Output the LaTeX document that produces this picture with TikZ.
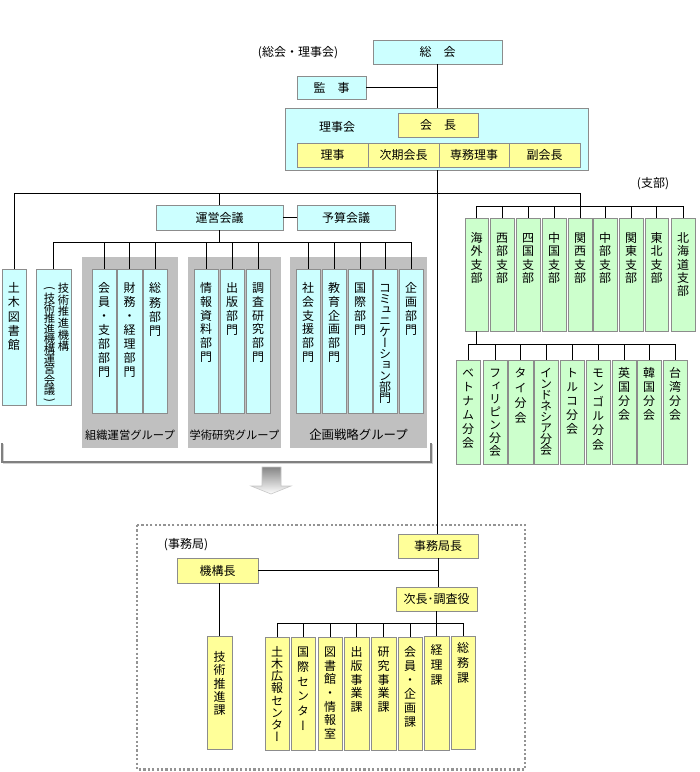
\documentclass[tikz,border=0pt]{standalone}
\usepackage{fontspec}
\usepackage{graphicx}
\setmainfont{Noto Sans CJK JP}
\newfontfamily\tatefont[RawFeature=+vert]{Noto Sans CJK JP}
\usetikzlibrary{calc}
\definecolor{cyanf}{HTML}{CCFFFF}
\definecolor{yellowf}{HTML}{FFFF99}
\definecolor{greenf}{HTML}{CCFFCC}
\definecolor{bordc}{HTML}{8C8C8C}
\definecolor{groupf}{HTML}{C0C0C0}
\makeatletter
\newcommand\tate[2][14]{\vtop{\tatefont\fontsize{12}{#1}\selectfont\baselineskip=#1pt\relax\lineskiplimit=-30pt\lineskip=0pt\@tfor\tate@c:=#2\do{\hbox to 12pt{\hss\tate@c\hss}}}}
\newcommand\tatesm[2][14]{\vtop{\tatefont\fontsize{11.3}{#1}\selectfont\baselineskip=#1pt\relax\lineskiplimit=-30pt\lineskip=0pt\@tfor\tate@c:=#2\do{\hbox to 11.3pt{\hss\tate@c\hss}}}}
\makeatother
\newcommand\bx[6]{\node[#1,anchor=north west,minimum width={(#5-#3)*1pt},minimum height={(#6-#4)*1pt}] (#2) at (#3,#4) {};}
\newcommand\hbx[7]{\node[#1,anchor=north west,minimum width={(#5-#3)*1pt},minimum height={(#6-#4)*1pt}] (#2) at (#3,#4) {#7};}
\newcommand\vbx[9][14]{\node[#2,anchor=north west,minimum width={(#6-#4)*1pt},minimum height={(#7-#5)*1pt}] (#3) at (#4,#5) {};
  \node[inner sep=0,anchor=base] (#3-t) at ($(#3.north)+(0,#8+4.6)$) {\tate[#1]{#9}};}
\tikzset{
  bxs/.style={draw=bordc,line width=0.9pt,inner sep=0pt,outer sep=0pt},
  cy/.style={bxs,fill=cyanf},
  ye/.style={bxs,fill=yellowf},
  gr/.style={bxs,fill=greenf},
  grp/.style={fill=groupf,draw=none,inner sep=0pt,outer sep=0pt},
  conn/.style={draw=black,line width=0.8pt},
}
\begin{document}
\begin{tikzpicture}[x=1pt,y=-1pt,font=\fontsize{12}{14}\selectfont]
\useasboundingbox (0,0) rectangle (700,772);
% ---------- group backgrounds
\bx{grp}{g1}{82}{257}{178}{448}
\bx{grp}{g2}{188}{257}{281}{448}
\bx{grp}{g3}{290}{257}{427}{448}
\node[font=\fontsize{11.3}{13}\selectfont] (g1l) at (130,435) {組織運営グループ};
\node[font=\fontsize{11.3}{13}\selectfont] (g2l) at (234.5,435) {学術研究グループ};
\node[font=\fontsize{12.4}{14}\selectfont] (g3l) at (358.5,435) {企画戦略グループ};
% ---------- top
\node (lblsr) at (298,53) {(総会・理事会)};
\hbx{cy}{soukai}{373}{40}{502}{64}{総　会}
\hbx{cy}{kanji}{297}{76}{366}{99}{監　事}
\bx{cy}{rijikai}{285}{108}{588}{170}
\node (rijikailbl) at (337,127) {理事会};
\hbx{ye}{kaicho}{398}{113}{478}{137}{会　長}
\hbx{ye}{riji}{297}{143}{368}{167}{理事}
\hbx{ye}{jiki}{368}{143}{439}{167}{次期会長}
\hbx{ye}{senmu}{439}{143}{509}{167}{専務理事}
\hbx{ye}{fuku}{509}{143}{580}{167}{副会長}
% ---------- council
\hbx{cy}{unei}{156}{205}{283}{230}{運営会議}
\hbx{cy}{yosan}{297}{205}{395}{230}{予算会議}
\vbx[14.2]{cy}{lib}{2}{269}{26}{405}{19}{土木図書館}
\bx{cy}{gisuiki}{36}{269}{71}{405}
\node[inner sep=0,anchor=base] (gisuiki-t1) at (63.5,292.4) {\tatesm[11.7]{技術推進機構}};
\node[inner sep=0,anchor=base] (gisuiki-t2) at (49.5,302.4) {\tatesm[10.2]{技術推進機構運営会議}};
\node[inner sep=0,font=\fontsize{11.3}{13}\selectfont] (gisuiki-po) at (49.5,288) {\rotatebox{-90}{(}};
\node[inner sep=0,font=\fontsize{11.3}{13}\selectfont] (gisuiki-pc) at (49.5,400) {\rotatebox{-90}{)}};
\vbx[13.9]{cy}{d1}{92}{269}{116}{413}{19}{会員・支部部門}
\vbx[13.9]{cy}{d2}{117}{269}{142}{413}{19}{財務・経理部門}
\vbx[14.4]{cy}{d3}{143}{269}{167}{413}{19}{総務部門}
\vbx[13.7]{cy}{d4}{194}{269}{218}{413}{19}{情報資料部門}
\vbx[14]{cy}{d5}{220}{269}{244}{413}{19}{出版部門}
\vbx[13.7]{cy}{d6}{246}{269}{270}{413}{19}{調査研究部門}
\vbx[13.7]{cy}{d7}{296}{269}{320}{413}{19}{社会支援部門}
\vbx[13.7]{cy}{d8}{322}{269}{346}{413}{19}{教育企画部門}
\vbx[14]{cy}{d9}{348}{269}{372}{413}{19}{国際部門}
\vbx[11]{cy}{d10}{373}{269}{397}{413}{19}{コミュニケーション部門}
\vbx[14]{cy}{d11}{399}{269}{423}{413}{19}{企画部門}
% ---------- branches
\node (lblshibu) at (653,184) {(支部)};
\vbx[13.3]{gr}{b1}{465}{218}{488}{331}{20}{海外支部}
\vbx[13.3]{gr}{b2}{490}{218}{514}{331}{20}{西部支部}
\vbx[13.3]{gr}{b3}{516}{218}{540}{331}{20}{四国支部}
\vbx[13.3]{gr}{b4}{542}{218}{566}{331}{20}{中国支部}
\vbx[13.3]{gr}{b5}{568}{218}{592}{331}{20}{関西支部}
\vbx[13.3]{gr}{b6}{593}{218}{617}{331}{20}{中部支部}
\vbx[13.3]{gr}{b7}{619}{218}{643}{331}{20}{関東支部}
\vbx[13.3]{gr}{b8}{645}{218}{668}{331}{20}{東北支部}
\vbx[13.3]{gr}{b9}{671}{218}{695}{331}{20}{北海道支部}
\vbx[14]{gr}{f1}{456}{360}{480}{464}{13}{ベトナム分会}
\vbx[13]{gr}{f2}{483}{360}{507}{464}{13}{フィリピン分会}
\vbx[15]{gr}{f3}{508}{360}{533}{464}{13}{タイ分会}
\vbx[11]{gr}{f4}{534}{360}{558}{464}{13}{インドネシア分会}
\vbx[14]{gr}{f5}{560}{360}{584}{464}{13}{トルコ分会}
\vbx[14.3]{gr}{f6}{586}{360}{610}{464}{13}{モンゴル分会}
\vbx[14]{gr}{f7}{612}{360}{636}{464}{13}{英国分会}
\vbx[14]{gr}{f8}{637}{360}{661}{464}{13}{韓国分会}
\vbx[14]{gr}{f9}{663}{360}{687}{464}{13}{台湾分会}
% ---------- bracket and arrow
\draw[draw=gray!35,line width=1pt] (3.5,444) -- (3.5,463.5) -- (432.5,463.5) -- (432.5,444);
\draw[draw=gray,line width=1.1pt] (2,443) -- (2,462) -- (431,462) -- (431,443);
\path[draw=gray!45,line width=0.6pt,top color=gray!95,bottom color=white] (262,467) -- (281,467) -- (281,486) -- (291,486) -- (271,494) -- (251,486) -- (262,486) -- cycle;
% ---------- secretariat
\draw[draw=gray!85,line width=2.2pt,dash pattern=on 2.2pt off 2.2pt] (137,525) rectangle (525,769.5);
\node (lbljimu) at (186,545) {(事務局)};
\hbx{ye}{jkc}{398}{534}{478}{558}{事務局長}
\hbx{ye}{kikocho}{177}{558}{258}{583}{機構長}
\hbx{ye}{jicho}{396}{587}{477}{611}{次長･調査役}
\vbx[13.3]{ye}{gsk}{207}{636}{232}{749}{21}{技術推進課}
\vbx[12.1]{ye}{k1}{265}{637}{289}{750}{15}{土木広報センター}
\vbx[14.7]{ye}{k2}{291}{637}{315}{750}{15}{国際センター}
\vbx[13.6]{ye}{k3}{318}{637}{342}{750}{15}{図書館・情報室}
\vbx[13.75]{ye}{k4}{344}{637}{369}{750}{15}{出版事業課}
\vbx[13.75]{ye}{k5}{371}{637}{396}{750}{15}{研究事業課}
\vbx[14]{ye}{k6}{398}{637}{422}{750}{15}{会員・企画課}
\vbx[15]{ye}{k7}{424}{636}{449}{750}{14}{経理課}
\vbx[15]{ye}{k8}{451}{636}{475}{749}{12}{総務課}
% ---------- connectors
\coordinate (tb) at (0,193);
\coordinate (ub) at (0,242);
\coordinate (sb) at (0,206);
\coordinate (fb) at (0,344);
\coordinate (kb) at (0,623);
\draw[conn] (soukai.south) -- (soukai.south |- rijikai.north);
\draw[conn] (kanji.east) -- (kanji.east -| soukai.south);
\draw[conn] (soukai.south |- rijikai.south) -- (soukai.south |- jkc.north);
\draw[conn] (lib.north) -- (lib.north |- tb) -- (b5.north |- tb) -- (b5.north);
\draw[conn] (unei.north |- tb) -- (unei.north);
\draw[conn] (unei.east) -- (yosan.west);
\draw[conn] (unei.south) -- (unei.south |- ub);
\draw[conn] (gisuiki.north |- ub) -- (d11.north |- ub);
\foreach \n in {gisuiki,d1,d2,d3,d4,d5,d6,d7,d8,d9,d10,d11}
  \draw[conn] (\n.north |- ub) -- (\n.north);
\draw[conn] (b1.north |- sb) -- (b9.north |- sb);
\foreach \n in {b1,b2,b3,b4,b6,b7,b8,b9}
  \draw[conn] (\n.north |- sb) -- (\n.north);
\draw[conn] (b1.south) -- (b1.south |- fb);
\draw[conn] (f1.north |- fb) -- (f9.north |- fb);
\foreach \n in {f1,f2,f3,f4,f5,f6,f7,f8,f9}
  \draw[conn] (\n.north |- fb) -- (\n.north);
\draw[conn] (jkc.south) -- (jkc.south |- jicho.north);
\draw[conn] (kikocho.east) -- (kikocho.east -| jkc.south);
\draw[conn] (gsk.north) -- (gsk.north |- kikocho.south);
\draw[conn] (jicho.south) -- (jicho.south |- kb);
\draw[conn] (k1.north |- kb) -- (k8.north |- kb);
\foreach \n in {k1,k2,k3,k4,k5,k6,k7,k8}
  \draw[conn] (\n.north |- kb) -- (\n.north);
\end{tikzpicture}
\end{document}
